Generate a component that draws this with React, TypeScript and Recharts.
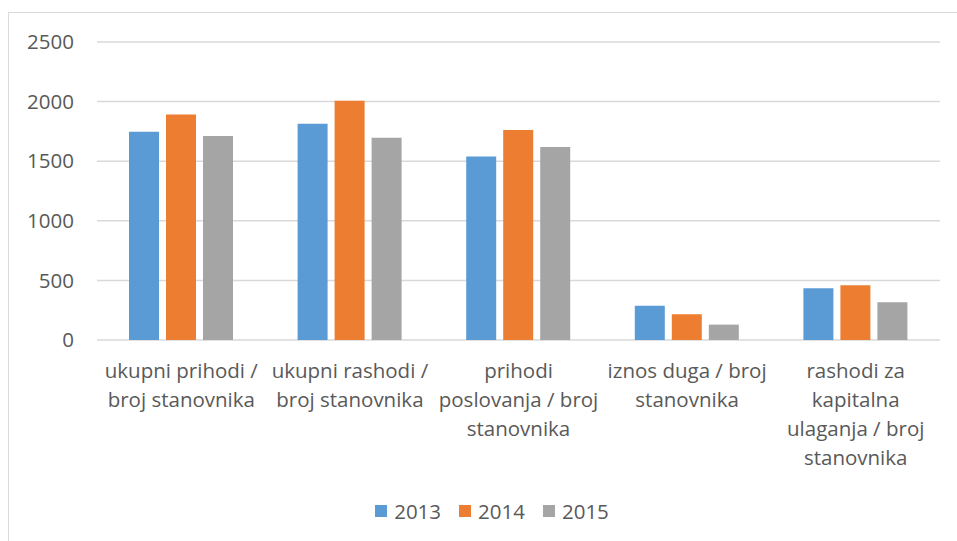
import React from 'react';
import { BarChart, Bar, XAxis, YAxis, CartesianGrid, Legend } from 'recharts';

const categoryLines = [
    ['ukupni prihodi /', 'broj stanovnika'],
    ['ukupni rashodi /', 'broj stanovnika'],
    ['prihodi', 'poslovanja / broj', 'stanovnika'],
    ['iznos duga / broj', 'stanovnika'],
    ['rashodi za', 'kapitalna', 'ulaganja / broj', 'stanovnika'],
];
const categories = categoryLines.map((l) => l.join(' '));

const values2013 = [1748, 1815, 1540, 288, 434];
const values2014 = [1891, 2008, 1762, 216, 460];
const values2015 = [1712, 1697, 1619, 129, 317];

const yTicks = [0, 500, 1000, 1500, 2000, 2500];

const series = [
    { key: '2013', color: '#5B9BD5' },
    { key: '2014', color: '#ED7D31' },
    { key: '2015', color: '#A5A5A5' },
];

const data = categories.map((name, i) => ({
    name,
    '2013': values2013[i],
    '2014': values2014[i],
    '2015': values2015[i],
}));

const FONT = '"Open Sans", sans-serif';
const TEXT = '#595959';

const CategoryTick = ({ x, y, payload }: any) => {
    const lines = categoryLines[payload.index] || [payload.value];
    return (
        <g transform={`translate(${x},${y})`}>
            <text textAnchor="middle" fill={TEXT} fontSize={20.5} fontFamily={FONT}>
                {lines.map((line, i) => (
                    <tspan key={i} x={0} y={30 + i * 29}>{line}</tspan>
                ))}
            </text>
        </g>
    );
};

const LegendContent = () => (
    <div style={{ display: 'flex', justifyContent: 'center', paddingLeft: 44, fontFamily: FONT, fontSize: 20.5, color: TEXT }}>
        {series.map((s) => (
            <div key={s.key} style={{ display: 'flex', alignItems: 'center', margin: '0 9px' }}>
                <span style={{ width: 12, height: 12, background: s.color, marginRight: 7, display: 'inline-block' }} />
                <span>{s.key}</span>
            </div>
        ))}
    </div>
);

const App: React.FC = () => {
    return (
        <div style={{ position: 'absolute', left: 0, top: 0, width: 957, height: 541, background: '#fff', overflow: 'hidden' }}>
            <div style={{ position: 'absolute', left: 8, top: 12, width: 980, height: 560, border: '1px solid #d9d9d9' }} />
            <div style={{ position: 'absolute', left: 0, top: 0 }}>
                <BarChart
                    width={957}
                    height={541}
                    data={data}
                    margin={{ top: 42, right: 17, bottom: 16, left: 0 }}
                    barSize={30}
                    barGap={7}
                >
                    <CartesianGrid vertical={false} stroke="#d9d9d9" strokeWidth={1.5} />
                    <XAxis
                        dataKey="name"
                        axisLine={false}
                        tickLine={false}
                        interval={0}
                        height={157}
                        tick={<CategoryTick />}
                    />
                    <YAxis
                        width={97}
                        domain={[0, 2500]}
                        ticks={yTicks}
                        axisLine={false}
                        tickLine={false}
                        tickSize={0}
                        tickMargin={23}
                        tick={{ fill: TEXT, fontSize: 20.5, fontFamily: FONT }}
                    />
                    <Legend verticalAlign="bottom" content={<LegendContent />} />
                    {series.map((s) => (
                        <Bar key={s.key} dataKey={s.key} fill={s.color} isAnimationActive={false} />
                    ))}
                </BarChart>
            </div>
        </div>
    );
};

export default App;
